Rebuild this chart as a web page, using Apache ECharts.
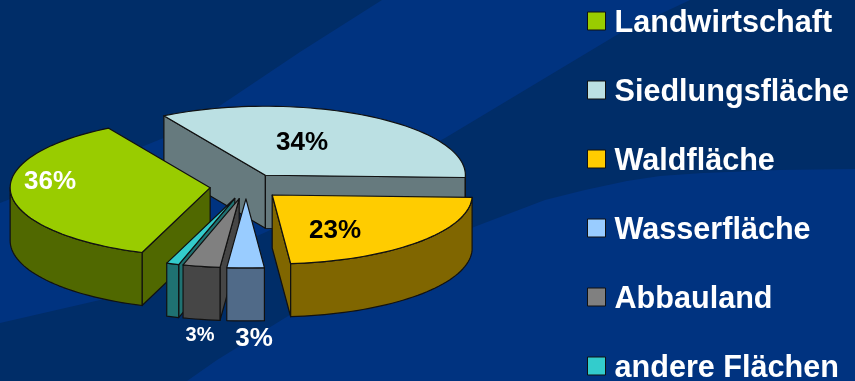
<!DOCTYPE html>
<html>
<head>
<meta charset="utf-8">
<style>html,body{margin:0;padding:0;background:#003380}#chart{width:855px;height:381px}</style>
<script src="https://cdn.jsdelivr.net/npm/echarts@6/dist/echarts.min.js"></script>
</head>
<body>
<div id="chart"></div>
<script>
// Land use shares, in clockwise order starting at the back slice
const categories = ['Siedlungsfläche', 'Waldfläche', 'Wasserfläche', 'Abbauland', 'andere Flächen', 'Landwirtschaft'];
const shares = [34, 23, 3, 3, 1, 36];
const legendOrder = ['Landwirtschaft', 'Siedlungsfläche', 'Waldfläche', 'Wasserfläche', 'Abbauland', 'andere Flächen'];
const printedLabels = ['34%', '23%', '3%', '3%', '', '36%'];

// Slice appearance
const topColors = ['#BBE0E3', '#FFCC00', '#99CCFF', '#808080', '#33CCCC', '#99CC00'];
const sideColors = ['#667A7E', '#806600', '#506A88', '#464646', '#1F7272', '#506800'];
const paintOrder = [0, 5, 1, 4, 3, 2];
const labelSpots = [[302, 143], [335, 231], [254, 339], [200, 335], null, [50, 182]];
const labelSizes = [26, 26, 26, 20, 0, 26];
const labelFills = ['#000', '#000', '#fff', '#fff', '#fff', '#fff'];
const explodeBy = [38, 36, 36, 36, 36, 36];

// Tilted pie projection
const pie = { cx: 246, cy: 186.5, rx: 200, ry: 69, depth: 53, start: 329.5 };

const rad = d => d * Math.PI / 180;
const project = (ox, oy, deg, r) => [ox + r * pie.rx * Math.sin(rad(deg)), oy - r * pie.ry * Math.cos(rad(deg))];

const total = shares.reduce((a, b) => a + b, 0);
const sweeps = [];
shares.reduce((from, v) => {
  const to = from + v / total * 360;
  sweeps.push([from, to]);
  return to;
}, pie.start);

function arcPoints(ox, oy, a, b) {
  const pts = [];
  const steps = Math.max(2, Math.ceil((b - a) / 2));
  for (let i = 0; i <= steps; i++) pts.push(project(ox, oy, a + (b - a) * i / steps, 1));
  return pts;
}

function renderSlice(idx, api) {
  const [a, b] = sweeps[idx];
  const mid = (a + b) / 2;
  const [ox, oy] = project(pie.cx, pie.cy, mid, explodeBy[idx] / pie.rx);
  const toPx = p => api.coord(p);
  const drop = p => [p[0], p[1] + pie.depth];
  const edge = { stroke: '#111', lineWidth: 1.2, lineJoin: 'round' };
  const children = [];
  const wall = pts => children.push({
    type: 'polygon',
    shape: { points: pts.concat(pts.slice().reverse().map(drop)).map(toPx) },
    style: Object.assign({ fill: sideColors[idx] }, edge)
  });
  const apex = [ox, oy];
  const rim = arcPoints(ox, oy, a, b);
  const first = rim[0], last = rim[rim.length - 1];
  // Only walls running leftwards along the clockwise outline face the viewer
  if (first[0] < apex[0]) wall([apex, first]);
  if (apex[0] < last[0]) wall([last, apex]);
  [0, 360].forEach(k => {
    const lo = Math.max(a, 90 + k), hi = Math.min(b, 270 + k);
    if (hi > lo) wall(arcPoints(ox, oy, lo, hi));
  });
  children.push({
    type: 'polygon',
    shape: { points: [apex].concat(rim).map(toPx) },
    style: Object.assign({ fill: topColors[idx] }, edge)
  });
  if (printedLabels[idx]) {
    const at = toPx(labelSpots[idx]);
    children.push({
      type: 'text',
      style: {
        x: at[0], y: at[1], text: printedLabels[idx], fill: labelFills[idx],
        font: 'bold ' + labelSizes[idx] + 'px "Liberation Sans", Arial, sans-serif',
        align: 'center', verticalAlign: 'middle'
      }
    });
  }
  return { type: 'group', children };
}

// Background swooshes, dark over the lighter slide blue
const swooshUpper = [[0, 0], [382, 0], [300, 52], [218, 107], [166, 137], [80, 172], [0, 203]];
const swooshLower = [[690, 0], [855, 0], [855, 169], [780, 170], [703, 173], [660, 176], [627, 181], [585, 190], [545, 200],
  [474, 227], [380, 280], [293, 313], [217, 360], [187, 381], [0, 381], [0, 323], [100, 300], [145, 289], [170, 275], [266, 232], [350, 190],
  [445, 138], [570, 63], [620, 33]];

const chart = echarts.init(document.getElementById('chart'));
chart.setOption({
  animation: false,
  backgroundColor: '#003380',
  graphic: [swooshUpper, swooshLower].map(points => ({
    type: 'polygon', z: -10, silent: true,
    shape: { points },
    style: { fill: '#002D68' }
  })),
  grid: { left: 0, right: 0, top: 0, bottom: 0 },
  xAxis: { type: 'value', min: 0, max: 855, show: false },
  yAxis: { type: 'value', min: 0, max: 381, inverse: true, show: false },
  legend: {
    orient: 'vertical', left: 587, top: 3, padding: 0, height: 420,
    data: legendOrder, icon: 'rect',
    itemWidth: 18, itemHeight: 18, itemGap: 33,
    selectedMode: false,
    itemStyle: { borderColor: '#111', borderWidth: 1 },
    formatter: name => '{t|' + name + '}',
    textStyle: {
      color: '#fff', fontFamily: '"Liberation Sans", Arial, sans-serif', fontWeight: 'bold', fontSize: 30.6,
      rich: { t: { color: '#fff', fontFamily: '"Liberation Sans", Arial, sans-serif', fontWeight: 'bold', fontSize: 30.6, lineHeight: 30, padding: [5, 0, 0, 4] } }
    }
  },
  series: categories.map((name, idx) => ({
    type: 'custom', name, coordinateSystem: 'cartesian2d',
    z: 2 + paintOrder.indexOf(idx),
    silent: true,
    itemStyle: { color: topColors[idx] },
    data: [[shares[idx]]],
    renderItem: (params, api) => renderSlice(idx, api)
  }))
});
</script>
</body>
</html>
